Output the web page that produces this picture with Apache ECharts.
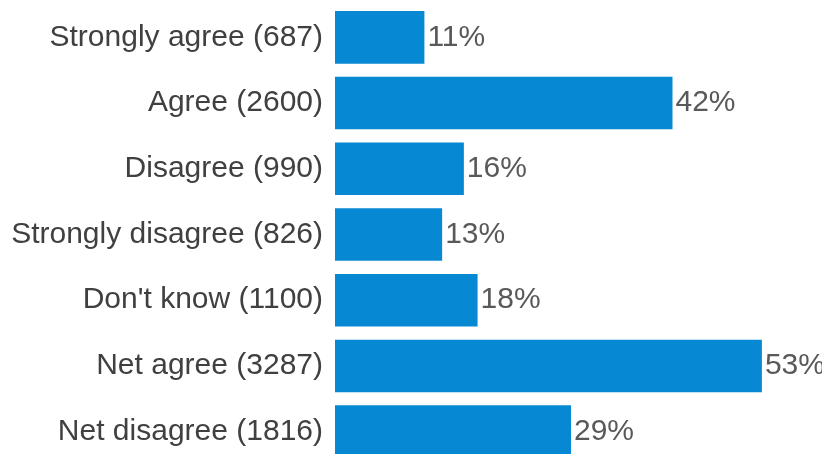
<!DOCTYPE html>
<html>
<head>
<meta charset="utf-8">
<script src="https://cdn.jsdelivr.net/npm/echarts@6/dist/echarts.min.js"></script>
<style>
  html, body { margin: 0; padding: 0; background: #fff; overflow: hidden; }
  #chart { width: 822px; height: 466px; }
</style>
</head>
<body>
<div id="chart"></div>
<script>
var categories = [
  "Strongly agree (687)",
  "Agree (2600)",
  "Disagree (990)",
  "Strongly disagree (826)",
  "Don't know (1100)",
  "Net agree (3287)",
  "Net disagree (1816)"
];
var percents = [11.1, 41.9, 16.0, 13.3, 17.7, 53.0, 29.3];

// chart is a bit taller than the window so the last bar gets cut at the bottom
var myChart = echarts.init(document.getElementById("chart"));
myChart.setOption({
  animation: false,
  grid: { left: 335, top: 4.5, width: 443, height: 460, containLabel: false },
  xAxis: {
    type: "value",
    min: 0,
    max: 55,
    show: false
  },
  yAxis: {
    type: "category",
    inverse: true,
    data: categories,
    axisLine: { show: false },
    axisTick: { show: false },
    axisLabel: {
      margin: 12,
      fontFamily: "Liberation Sans",
      fontSize: 30,
      color: "#404040"
    }
  },
  series: [{
    type: "bar",
    data: percents,
    barCategoryGap: "20%",
    itemStyle: { color: "#0788d3" },
    label: {
      show: true,
      position: "right",
      distance: 3,
      fontFamily: "Liberation Sans",
      fontSize: 30,
      color: "#595959",
      formatter: function (p) { return Math.round(p.value) + "%"; }
    }
  }]
});
</script>
</body>
</html>
